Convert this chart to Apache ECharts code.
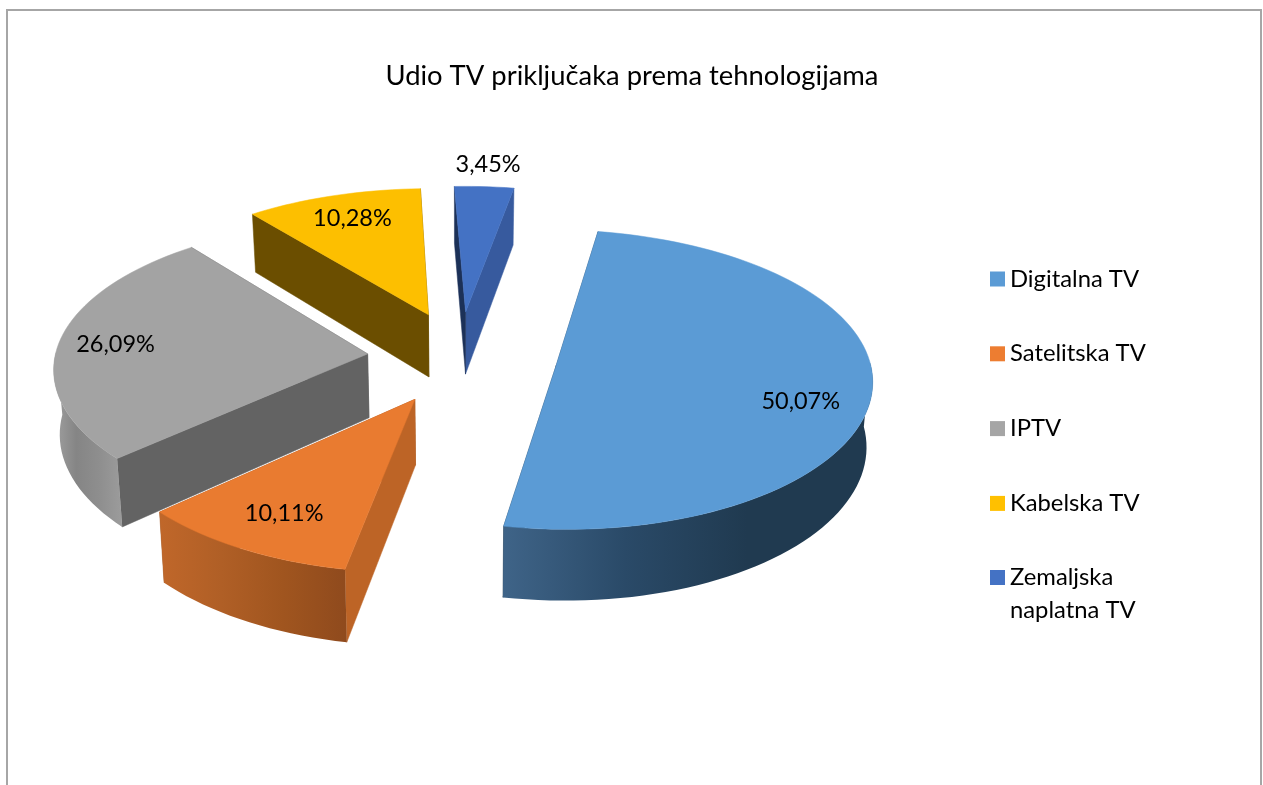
<!DOCTYPE html>
<html>
<head>
<meta charset="utf-8">
<title>Udio TV priključaka prema tehnologijama</title>
<style>
html, body { margin: 0; padding: 0; background: #fff; }
#chart { width: 1263px; height: 785px; }
</style>
<script src="https://cdn.jsdelivr.net/npm/echarts@6/dist/echarts.min.js"></script>
</head>
<body>
<div id="chart"></div>
<script>
var chartTitle = 'Udio TV priključaka prema tehnologijama';
var categories = ['Digitalna TV', 'Satelitska TV', 'IPTV', 'Kabelska TV', 'Zemaljska naplatna TV'];
var shares = [50.07, 10.11, 26.09, 10.28, 3.45];

var topColors = ['#5b9bd5', '#e97b30', '#a3a3a3', '#fdbf00', '#4472c4'];
var legendColors = ['#5b9bd5', '#ed7d31', '#a5a5a5', '#ffc000', '#4472c4'];
var wallColors = [
    ['#3f6488', '#2a4a68', '#203a50', '#203a50'],
    ['#c0672a', '#b05f26', '#a0551f', '#8f4a1d'],
    ['#a0a0a0', '#858585', '#8e8e8e', '#9c9c9c'],
    ['#6b4e00', '#6b4e00', '#6b4e00', '#6b4e00'],
    ['#375a9e', '#375a9e', '#375a9e', '#375a9e']
];
var startCutColors = ['#2a4a68', '#bd6426', '#636363', '#6b4e00', '#1c3158'];
var endCutColors = ['#203a50', '#a0551f', '#636363', '#6b4e00', '#375a9e'];
// painter's order, back slices first
var paintOrder = [5, 4, 2, 3, 1];
// where the label sits: share of the slice's arc, distance from the apex
var labelSpots = [[0.54, 0.79], [0.5, 0.77], [0.51, 0.82], [0.52, 0.81], [0.5, 1.23]];
var explodeScale = [1.08, 1, 1.02, 1, 1];

var firstAngle = 10.2;
var explodeX = 0.29, explodeV = 0.32;
var centerX = 459.5, centerY = 357;
var radiusX = 312, radiusY = 146, depth = 64, rimLift = 3;
var perspective = 0.113, perspectiveX = 0.1, depthShrink = 0.015;

function project(x, v, z) {
    var s = 1 / (1 - perspective * v);
    var sx = 1 / (1 - perspectiveX * v);
    return [centerX + radiusX * x * sx * (1 - depthShrink * z), centerY + radiusY * v * s + depth * z * Math.pow(s, 0.85)];
}

function rad(deg) {
    return deg * Math.PI / 180;
}

function sliceShape(index) {
    var total = 0, before = 0, i;
    for (i = 0; i < shares.length; i++) {
        total += shares[i];
        if (i < index) before += shares[i];
    }
    var a0 = firstAngle + before / total * 360;
    var a1 = a0 + shares[index] / total * 360;
    var mid = rad((a0 + a1) / 2);
    return {
        a0: a0,
        a1: a1,
        ox: Math.sin(mid) * explodeX * explodeScale[index],
        ov: -Math.cos(mid) * explodeV
    };
}

function arcPoints(shape, from, to, z) {
    var pts = [], n = Math.ceil((to - from) / 2), j;
    for (j = 0; j <= n; j++) {
        var t = rad(from + (to - from) * j / n);
        var p = project(shape.ox + Math.sin(t), shape.ov - Math.cos(t), z);
        pts.push([p[0], p[1] - rimLift]);
    }
    return pts;
}

function polygon(points, fill, stroke) {
    return {
        type: 'polygon',
        shape: { points: points },
        style: { fill: fill, stroke: stroke || fill, lineWidth: 0.5 }
    };
}

function renderSlice(params, api) {
    var index = params.seriesIndex;
    var shape = sliceShape(index);
    var apexTop = project(shape.ox, shape.ov, 0);
    var apexBottom = project(shape.ox, shape.ov, 1);
    var top = arcPoints(shape, shape.a0, shape.a1, 0);
    var bottom = arcPoints(shape, shape.a0, shape.a1, 1);
    var last = top.length - 1;
    var children = [
        polygon([apexTop, top[last], bottom[last], apexBottom], endCutColors[index]),
        polygon([apexTop, top[0], bottom[0], apexBottom], startCutColors[index])
    ];

    // the outer wall only shows on the front half of the circle
    var wallFrom = Math.max(shape.a0, 90), wallTo = Math.min(shape.a1, 270);
    if (wallTo > wallFrom) {
        var wallTop = arcPoints(shape, wallFrom, wallTo, 0);
        var wallBottom = arcPoints(shape, wallFrom, wallTo, 1);
        var xs = wallTop.concat(wallBottom).map(function (p) { return p[0]; });
        var stops = wallColors[index];
        var wallFill = new echarts.graphic.LinearGradient(Math.min.apply(null, xs), 0, Math.max.apply(null, xs), 0, [
            { offset: 0, color: stops[0] },
            { offset: 0.33, color: stops[1] },
            { offset: 0.66, color: stops[2] },
            { offset: 1, color: stops[3] }
        ], true);
        children.push(polygon(wallTop.concat(wallBottom.reverse()), wallFill, 'rgba(0,0,0,0)'));
    }
    children.push(polygon([apexTop].concat(top), topColors[index]));

    var spot = labelSpots[index];
    var labelAngle = rad(shape.a0 + (shape.a1 - shape.a0) * spot[0]);
    var labelAt = project(shape.ox + Math.sin(labelAngle) * spot[1], shape.ov - Math.cos(labelAngle) * spot[1], 0);
    children.push({
        type: 'text',
        style: {
            text: api.value(0).toFixed(2).replace('.', ',') + '%',
            x: labelAt[0],
            y: labelAt[1],
            align: 'center',
            verticalAlign: 'middle',
            fill: '#000',
            fontFamily: 'Lato',
            fontSize: 23.5
        }
    });

    return { type: 'group', children: children };
}

var myChart = echarts.init(document.getElementById('chart'), null, { renderer: 'canvas' });

var seriesList = categories.map(function (name, i) {
    return {
        type: 'custom',
        name: name,
        coordinateSystem: 'none',
        renderItem: renderSlice,
        silent: true,
        animation: false,
        z: paintOrder[i],
        itemStyle: { color: legendColors[i] },
        data: [[shares[i]]]
    };
});

var option = {
    backgroundColor: '#fff',
    animation: false,
    title: {
        text: chartTitle,
        left: 627,
        top: 58,
        textAlign: 'center',
        textStyle: { fontFamily: 'Lato', fontSize: 27.4, fontWeight: 'normal', color: '#000' }
    },
    legend: [{
        orient: 'vertical',
        left: 985,
        top: 262,
        itemWidth: 15,
        itemHeight: 15,
        itemGap: 50.8,
        icon: 'rect',
        data: categories.slice(0, 4),
        textStyle: { fontFamily: 'Lato', fontSize: 23.8, color: '#000' }
    }, {
        orient: 'vertical',
        left: 985,
        top: 523,
        itemWidth: 15,
        itemHeight: 15,
        icon: 'rect',
        data: categories.slice(4),
        // the blank first line keeps the icon level with "Zemaljska"
        formatter: function () { return ' \nZemaljska\nnaplatna TV'; },
        textStyle: { fontFamily: 'Lato', fontSize: 23.8, color: '#000', lineHeight: 33 }
    }],
    graphic: [{
        type: 'polyline',
        silent: true,
        shape: { points: [[7, 785], [7, 10], [1261, 10], [1261, 785]] },
        style: { stroke: '#a6a6a6', lineWidth: 2, fill: null }
    }],
    series: seriesList
};

myChart.setOption(option);
</script>
</body>
</html>
